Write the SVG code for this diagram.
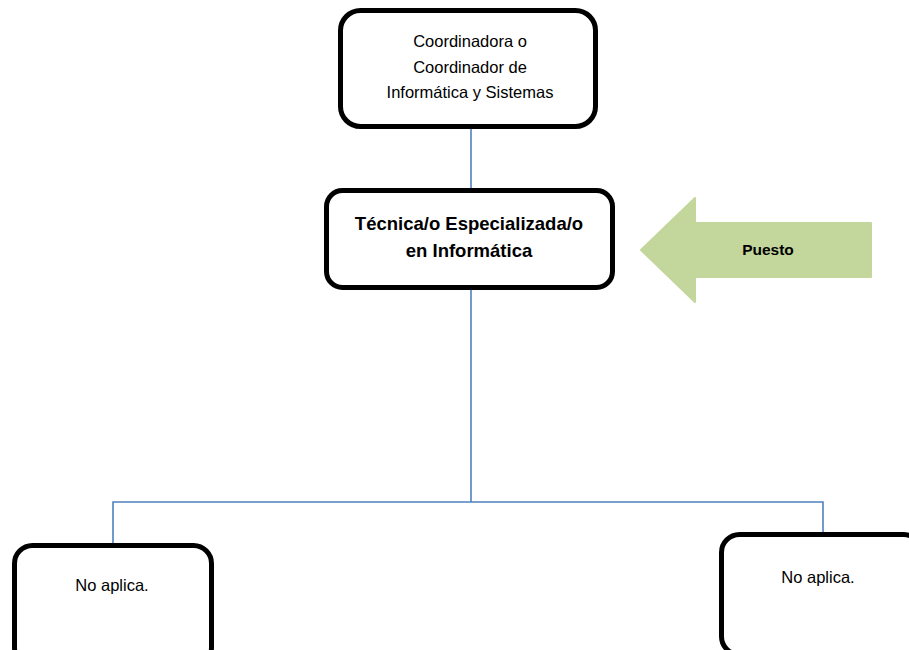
<svg xmlns="http://www.w3.org/2000/svg" width="909" height="650" viewBox="0 0 909 650">
<style>
.box{fill:#fff;stroke:#000;stroke-width:5}
.t{font-family:"Liberation Sans","Open Sans",sans-serif;font-size:16.5px;fill:#000;text-anchor:middle}
.b{font-weight:bold;font-size:18.5px}
.conn{fill:none;stroke:#4F81BD;stroke-width:1.6}
</style>
<rect width="909" height="650" fill="#fff"/>
<g id="connectors">
<line class="conn" x1="471" y1="127" x2="471" y2="190"/>
<line class="conn" x1="471" y1="290" x2="471" y2="502"/>
<polyline class="conn" points="113,545 113,502 823,502 823,533"/>
</g>
<g id="coordinador">
<rect class="box" x="340.5" y="10.5" width="255" height="116" rx="20"/>
<text class="t" x="470" y="47">Coordinadora o</text>
<text class="t" x="470" y="73">Coordinador de</text>
<text class="t" x="470" y="98">Informática y Sistemas</text>
</g>
<g id="tecnico">
<rect class="box" x="326.5" y="190.5" width="286" height="97" rx="16"/>
<text class="t b" x="469" y="230">Técnica/o Especializada/o</text>
<text class="t b" x="469" y="257">en Informática</text>
</g>
<g id="puesto">
<path d="M641,250 L695,198 L695,223 L871,223 L871,277 L695,277 L695,302 Z" fill="#C3D69B" stroke="#C3D69B" stroke-width="2" stroke-linejoin="round"/>
<text class="t" x="768" y="255" style="font-weight:bold;font-size:15.5px">Puesto</text>
</g>
<g id="noaplica1">
<rect class="box" x="14.5" y="545.5" width="197" height="120" rx="18"/>
<text class="t" x="112" y="591">No aplica.</text>
</g>
<g id="noaplica2">
<rect class="box" x="721.5" y="534.5" width="200" height="120" rx="18"/>
<text class="t" x="818" y="583">No aplica.</text>
</g>
</svg>
